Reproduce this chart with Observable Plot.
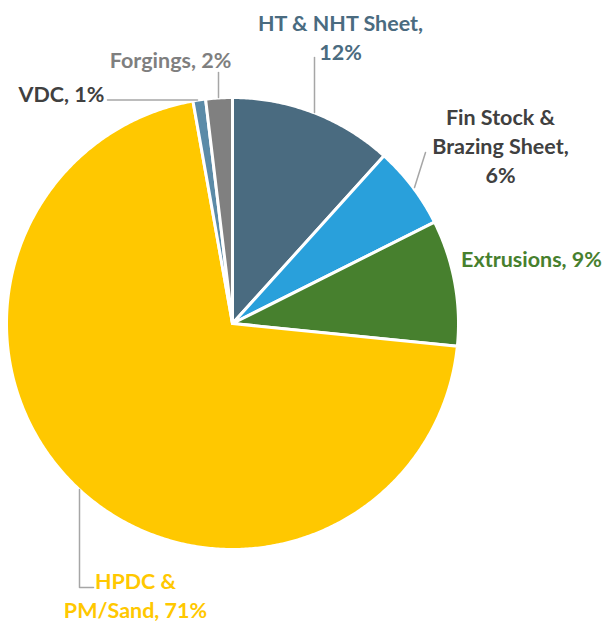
<!DOCTYPE html>
<html>
<head>
<meta charset="utf-8">
<script src="https://cdn.jsdelivr.net/npm/d3@7"></script>
<script src="https://cdn.jsdelivr.net/npm/@observablehq/plot@0.6"></script>
<style>
  html, body { margin: 0; padding: 0; background: #fff; }
  #chart svg { display: block; }
</style>
</head>
<body>
<div id="chart"></div>
<script>
// ---- data ----
const categories = ["HT & NHT Sheet", "Fin Stock & Brazing Sheet", "Extrusions", "HPDC & PM/Sand", "VDC", "Forgings"];
const shares = [11.7, 5.9, 9.0, 70.6, 0.9, 1.9];
const labelLines = [
  ["HT & NHT Sheet,", "12%"],
  ["Fin Stock &", "Brazing Sheet,", "6%"],
  ["Extrusions, 9%"],
  ["HPDC &", "PM/Sand, 71%"],
  ["VDC, 1%"],
  ["Forgings, 2%"]
];

// ---- styles / layout ----
const sliceColors = ["#4a6b80", "#29a0db", "#47802e", "#ffc800", "#5b8ba8", "#808080"];
const labelColors = ["#4a6b80", "#404040", "#47802e", "#ffc800", "#404040", "#7f7f7f"];
const W = 604, H = 623;
const cx = 232, cy = 323, R = 226;
const labelPos = [[340, 35.5], [500, 144], [531, 257], [135, 594], [61, 92], [170, 58]];
const leaders = [
  [[314, 57], [314, 112]],
  [[425, 152], [414, 187]],
  [[79, 489], [79, 587], [93, 587]],
  [[107, 99.5], [197, 99.5]],
  [[218, 72], [218, 97]]
];
const FONT = "Lato, 'Open Sans', sans-serif";

// ---- geometry from data ----
const arcs = d3.pie().sort(null).value(d => d)(shares);
function slicePolygon(a) {
  const pts = [{x: cx, y: cy}];
  const steps = Math.max(4, Math.ceil((a.endAngle - a.startAngle) / (Math.PI / 360)));
  for (let i = 0; i <= steps; i++) {
    const t = a.startAngle + (a.endAngle - a.startAngle) * i / steps;
    pts.push({x: cx + R * Math.sin(t), y: cy - R * Math.cos(t)});
  }
  pts.push({x: cx, y: cy});
  return pts;
}

const marks = [];
arcs.forEach((a, i) => {
  marks.push(Plot.line(slicePolygon(a), {
    x: "x", y: "y", fill: sliceColors[i], stroke: "#fff", strokeWidth: 3,
    strokeLinejoin: "round", title: () => `${categories[i]}: ${shares[i]}%`
  }));
});
leaders.forEach(pts => {
  marks.push(Plot.line(pts.map(([x, y]) => ({x, y})), {x: "x", y: "y", stroke: "#a6a6a6", strokeWidth: 1.5}));
});
labelLines.forEach((lines, i) => {
  marks.push(Plot.text([{x: labelPos[i][0], y: labelPos[i][1], t: lines.join("\n")}], {
    x: "x", y: "y", text: "t", fill: labelColors[i], fontSize: 21.5, fontWeight: "bold",
    fontFamily: FONT, textAnchor: "middle", lineAnchor: "middle", lineHeight: 1.35
  }));
});

const chart = Plot.plot({
  width: W, height: H,
  margin: 0,
  x: {domain: [0, W], range: [0, W], axis: null},
  y: {domain: [0, H], range: [0, H], axis: null},
  style: {background: "#fff", fontFamily: FONT},
  marks
});
document.getElementById("chart").appendChild(chart);
</script>
</body>
</html>
